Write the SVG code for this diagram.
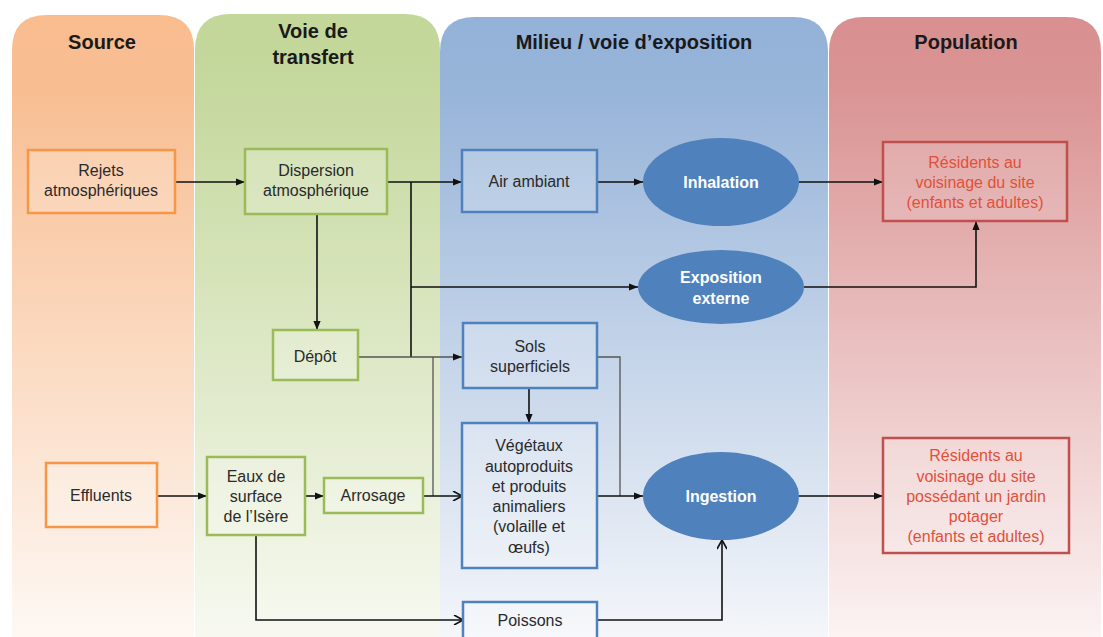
<svg xmlns="http://www.w3.org/2000/svg" width="1103" height="637" viewBox="0 0 1103 637">
<defs>
<linearGradient id="gS" x1="0" y1="0" x2="0" y2="1"><stop offset="0" stop-color="#F8BC8F"/><stop offset="0.12" stop-color="#F8BE92"/><stop offset="1" stop-color="#FEF8F4"/></linearGradient>
<linearGradient id="gT" x1="0" y1="0" x2="0" y2="1"><stop offset="0" stop-color="#C3D79A"/><stop offset="0.12" stop-color="#C5D89D"/><stop offset="1" stop-color="#F7F9F1"/></linearGradient>
<linearGradient id="gM" x1="0" y1="0" x2="0" y2="1"><stop offset="0" stop-color="#94B2D8"/><stop offset="0.12" stop-color="#97B4D9"/><stop offset="1" stop-color="#F4F6FA"/></linearGradient>
<linearGradient id="gP" x1="0" y1="0" x2="0" y2="1"><stop offset="0" stop-color="#D98F8F"/><stop offset="0.12" stop-color="#DA9494"/><stop offset="1" stop-color="#FCF3F3"/></linearGradient>
<marker id="af" viewBox="0 0 10 10" refX="10" refY="5" markerWidth="9" markerHeight="9" orient="auto" markerUnits="userSpaceOnUse"><path d="M0,1 L10,5 L0,9 Z" fill="#111"/></marker>
<marker id="ao" viewBox="0 0 10 10" refX="10" refY="5" markerWidth="10" markerHeight="10" orient="auto" markerUnits="userSpaceOnUse"><path d="M1,0 L10,5 L1,10" fill="none" stroke="#111" stroke-width="1.6"/></marker>
</defs>
<style>
.hd{font-family:"Liberation Sans",Arial,sans-serif;font-weight:bold;font-size:20px;fill:#1a1a1a;text-anchor:middle}
.t{font-family:"Liberation Sans",Arial,sans-serif;font-size:16px;fill:#2a2a2a;text-anchor:middle}
.tr{font-family:"Liberation Sans",Arial,sans-serif;font-size:16px;fill:#E2503A;text-anchor:middle}
.te{font-family:"Liberation Sans",Arial,sans-serif;font-size:16px;font-weight:bold;fill:#fff;text-anchor:middle}
.bo{fill:#fff;fill-opacity:0.22;stroke:#F79646;stroke-width:2.5}
.bg{fill:#fff;fill-opacity:0.22;stroke:#9BBB59;stroke-width:2.5}
.bb{fill:#fff;fill-opacity:0.22;stroke:#4F81BD;stroke-width:2.5}
.br{fill:#fff;fill-opacity:0.15;stroke:#C0504D;stroke-width:2.5}
.el{fill:#4F81BD}
.c{fill:none;stroke:#111;stroke-width:1.6}
.cg{fill:none;stroke:#555;stroke-width:1.3}
</style>
<rect width="1103" height="637" fill="#fff"/>
<g id="panels">
<path d="M12,637 V50 Q12,15 47,15 H159 Q194,15 194,50 V637 Z" fill="url(#gS)"/>
<path d="M195,637 V50 Q195,14 231,14 H404 Q440,14 440,50 V637 Z" fill="url(#gT)"/>
<path d="M440,637 V52 Q440,17 475,17 H793 Q828,17 828,52 V637 Z" fill="url(#gM)"/>
<path d="M829,637 V52 Q829,17 864,17 H1066 Q1101,17 1101,52 V637 Z" fill="url(#gP)"/>
<text class="hd" x="102" y="49">Source</text>
<text class="hd" x="313" y="38">Voie de</text>
<text class="hd" x="313" y="64">transfert</text>
<text class="hd" x="634" y="49">Milieu / voie d’exposition</text>
<text class="hd" x="966" y="49">Population</text>
</g>
<g id="connectors">
<path class="c" d="M175,182 H245" marker-end="url(#af)"/>
<path class="c" d="M387,182 H462" marker-end="url(#af)"/>
<path class="c" d="M411,182 V357"/>
<path class="c" d="M411,287 H638" marker-end="url(#af)"/>
<path class="c" d="M317,214 V330" marker-end="url(#af)"/>
<path class="cg" d="M358,357 H462" marker-end="url(#af)"/>
<path class="cg" d="M433,357 V496"/>
<path class="c" d="M423,496 H462" marker-end="url(#ao)"/>
<path class="c" d="M157,496 H207" marker-end="url(#af)"/>
<path class="c" d="M305,496 H324" marker-end="url(#af)"/>
<path class="c" d="M256,535 V620 H463" marker-end="url(#ao)"/>
<path class="c" d="M597,182 H643" marker-end="url(#af)"/>
<path class="c" d="M799,182 H883" marker-end="url(#af)"/>
<path class="c" d="M804,287 H976 V221" marker-end="url(#af)"/>
<path class="c" d="M529,388 V423" marker-end="url(#af)"/>
<path class="cg" d="M597,357 H620 V496"/>
<path class="c" d="M597,496 H643" marker-end="url(#af)"/>
<path class="c" d="M597,620 H722 V540" marker-end="url(#ao)"/>
<path class="c" d="M799,496 H883" marker-end="url(#af)"/>
</g>
<g id="rejets"><rect class="bo" x="28" y="150" width="147" height="63"/><text class="t" x="101" y="176">Rejets</text><text class="t" x="101" y="196">atmosphériques</text></g>
<g id="effluents"><rect class="bo" x="46" y="463" width="111" height="64"/><text class="t" x="101" y="501">Effluents</text></g>
<g id="dispersion"><rect class="bg" x="245" y="149" width="142" height="65"/><text class="t" x="316" y="176">Dispersion</text><text class="t" x="316" y="196">atmosphérique</text></g>
<g id="depot"><rect class="bg" x="273" y="330" width="85" height="50"/><text class="t" x="315" y="362">Dépôt</text></g>
<g id="eaux"><rect class="bg" x="207" y="457" width="98" height="78"/><text class="t" x="256" y="482">Eaux de</text><text class="t" x="256" y="502">surface</text><text class="t" x="256" y="522">de l’Isère</text></g>
<g id="arrosage"><rect class="bg" x="324" y="478" width="99" height="35"/><text class="t" x="373" y="501">Arrosage</text></g>
<g id="air"><rect class="bb" x="462" y="150" width="135" height="62"/><text class="t" x="529" y="187">Air ambiant</text></g>
<g id="sols"><rect class="bb" x="463" y="323" width="134" height="65"/><text class="t" x="530" y="352">Sols</text><text class="t" x="530" y="372">superficiels</text></g>
<g id="vegetaux"><rect class="bb" x="462" y="423" width="135" height="145"/><text class="t" x="529" y="451">Végétaux</text><text class="t" x="529" y="472">autoproduits</text><text class="t" x="529" y="492">et produits</text><text class="t" x="529" y="512">animaliers</text><text class="t" x="529" y="532">(volaille et</text><text class="t" x="529" y="553">œufs)</text></g>
<g id="poissons"><rect class="bb" x="463" y="602" width="134" height="38"/><text class="t" x="530" y="626">Poissons</text></g>
<g id="inhalation"><ellipse class="el" cx="721" cy="182" rx="78" ry="44"/><text class="te" x="721" y="188">Inhalation</text></g>
<g id="exposition"><ellipse class="el" cx="721" cy="287" rx="83" ry="37"/><text class="te" x="721" y="283">Exposition</text><text class="te" x="721" y="304">externe</text></g>
<g id="ingestion"><ellipse class="el" cx="721" cy="496" rx="78" ry="44"/><text class="te" x="721" y="502">Ingestion</text></g>
<g id="residents1"><rect class="br" x="883" y="142" width="184" height="79"/><text class="tr" x="975" y="168">Résidents au</text><text class="tr" x="975" y="188">voisinage du site</text><text class="tr" x="975" y="208">(enfants et adultes)</text></g>
<g id="residents2"><rect class="br" x="883" y="438" width="186" height="115"/><text class="tr" x="976" y="461">Résidents au</text><text class="tr" x="976" y="482">voisinage du site</text><text class="tr" x="976" y="502">possédant un jardin</text><text class="tr" x="976" y="522">potager</text><text class="tr" x="976" y="542">(enfants et adultes)</text></g>
</svg>
